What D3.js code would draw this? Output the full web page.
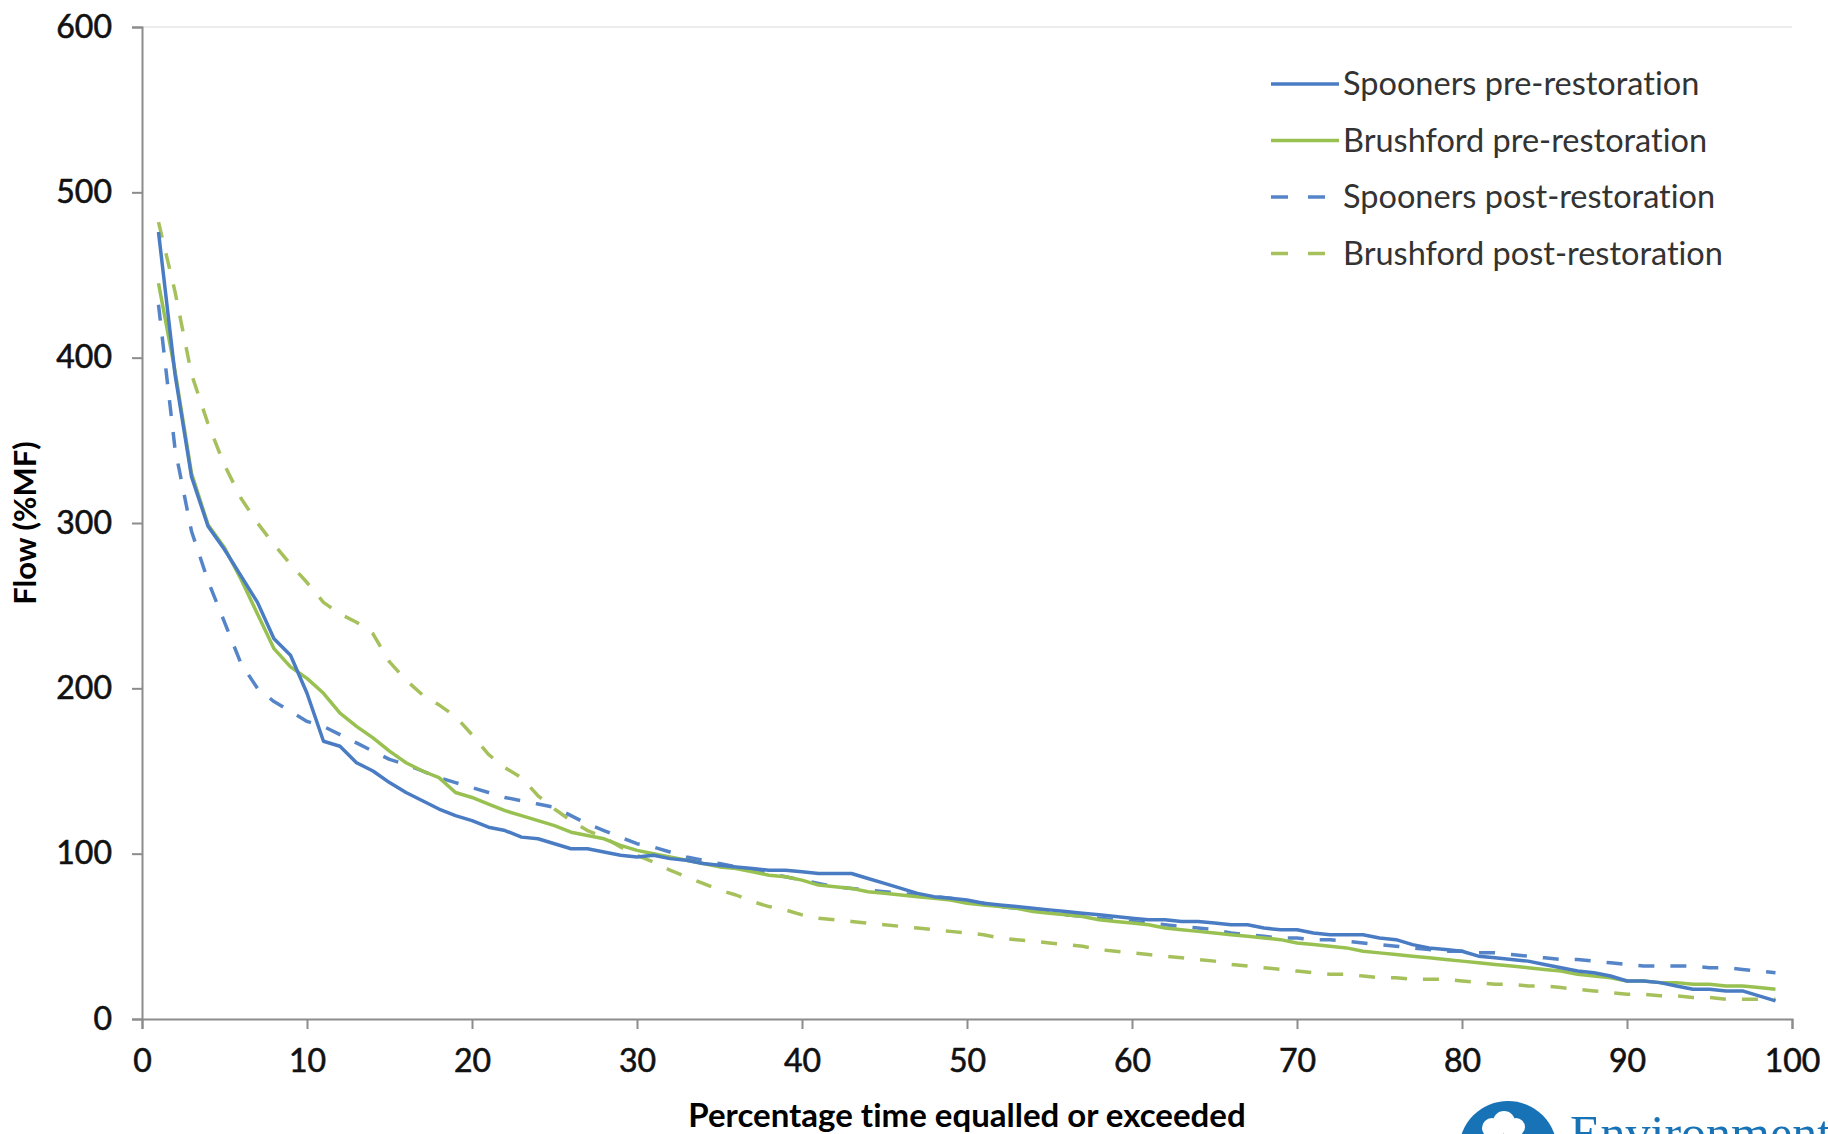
<!DOCTYPE html>
<html>
<head>
<meta charset="utf-8">
<script src="https://cdn.jsdelivr.net/npm/d3@7"></script>
<style>
  body { margin: 0; background: #fff; }
  svg { display: block; }
  text { font-variant-ligatures: none; }
</style>
</head>
<body>
<div id="chart"></div>
<script>
// percentage of time equalled or exceeded (1..99)
var percent = [
  1, 2, 3, 4, 5, 6, 7, 8, 9, 10, 11, 12, 13, 14, 15, 16, 17, 18, 19, 20,
  21, 22, 23, 24, 25, 26, 27, 28, 29, 30, 31, 32, 33, 34, 35, 36, 37, 38, 39, 40,
  41, 42, 43, 44, 45, 46, 47, 48, 49, 50, 51, 52, 53, 54, 55, 56, 57, 58, 59, 60,
  61, 62, 63, 64, 65, 66, 67, 68, 69, 70, 71, 72, 73, 74, 75, 76, 77, 78, 79, 80,
  81, 82, 83, 84, 85, 86, 87, 88, 89, 90, 91, 92, 93, 94, 95, 96, 97, 98, 99
];

var spoonersPre = [
  476, 390, 328, 298, 284, 268, 252, 230, 220, 197, 168, 165, 155, 150, 143, 137, 132, 127, 123, 120,
  116, 114, 110, 109, 106, 103, 103, 101, 99, 98, 99, 97, 96, 94, 93, 92, 91, 90, 90, 89,
  88, 88, 88, 85, 82, 79, 76, 74, 73, 72, 70, 69, 68, 67, 66, 65, 64, 63, 62, 61,
  60, 60, 59, 59, 58, 57, 57, 55, 54, 54, 52, 51, 51, 51, 49, 48, 45, 43, 42, 41,
  38, 37, 36, 35, 33, 31, 29, 28, 26, 23, 23, 22, 20, 18, 18, 17, 17, 14, 11
];

var brushfordPre = [
  445, 392, 330, 299, 285, 266, 245, 224, 213, 206, 197, 185, 177, 170, 162, 155, 150, 146, 137, 134,
  130, 126, 123, 120, 117, 113, 111, 109, 105, 102, 100, 98, 96, 94, 92, 91, 89, 87, 86, 84,
  81, 80, 79, 77, 76, 75, 74, 73, 72, 70, 69, 68, 67, 65, 64, 63, 62, 60, 59, 58,
  57, 55, 54, 53, 52, 51, 50, 49, 48, 46, 45, 44, 43, 41, 40, 39, 38, 37, 36, 35,
  34, 33, 32, 31, 30, 29, 27, 26, 25, 23, 23, 22, 22, 21, 21, 20, 20, 19, 18
];

var spoonersPost = [
  432, 345, 295, 265, 240, 215, 200, 192, 186, 180, 177, 172, 167, 162, 157, 154, 150, 146, 143, 140,
  137, 134, 132, 130, 128, 123, 118, 114, 110, 106, 104, 101, 98, 96, 94, 92, 90, 88, 86, 84,
  82, 80, 79, 78, 77, 76, 75, 74, 73, 71, 70, 68, 67, 66, 65, 63, 62, 61, 60, 59,
  58, 57, 56, 55, 54, 52, 51, 50, 49, 49, 48, 48, 47, 46, 45, 44, 43, 42, 41, 41,
  40, 40, 39, 38, 37, 36, 36, 35, 34, 33, 32, 32, 32, 32, 31, 31, 30, 29, 28
];

var brushfordPost = [
  482, 440, 390, 360, 335, 315, 300, 287, 275, 264, 252, 245, 240, 233, 216, 205, 196, 190, 183, 172,
  160, 152, 146, 135, 127, 120, 114, 110, 104, 99, 95, 90, 86, 82, 78, 75, 71, 68, 66, 63,
  61, 60, 59, 58, 57, 56, 55, 54, 53, 52, 51, 49, 48, 47, 46, 45, 44, 42, 41, 40,
  39, 38, 37, 36, 35, 33, 32, 31, 30, 29, 28, 27, 27, 26, 25, 25, 24, 24, 24, 23,
  22, 21, 21, 20, 20, 19, 18, 17, 16, 15, 15, 14, 14, 13, 13, 12, 12, 12, 12
];

var seriesNames = [
  "Spooners pre-restoration",
  "Brushford pre-restoration",
  "Spooners post-restoration",
  "Brushford post-restoration"
];
var seriesValues = [spoonersPre, brushfordPre, spoonersPost, brushfordPost];
var seriesColors = ["#4a7cc4", "#98c151", "#5585c8", "#a6c05c"];
var seriesDashed = [false, false, true, true];

var xTicks = [0, 10, 20, 30, 40, 50, 60, 70, 80, 90, 100];
var yTicks = [0, 100, 200, 300, 400, 500, 600];

var W = 1828, H = 1134;
var margin = {top: 27, right: 36, bottom: 115, left: 142};
var width = W - margin.left - margin.right;
var height = H - margin.top - margin.bottom;

var svg = d3.select("#chart")
  .append("svg")
    .attr("width", W)
    .attr("height", H)
    .style("background", "#fff");

var g = svg.append("g")
  .attr("transform", "translate(" + margin.left + "," + margin.top + ")");

var x = d3.scaleLinear().domain([0, 100]).range([0, width]);
var y = d3.scaleLinear().domain([0, 600]).range([height, 0]);

// faint top border
g.append("line")
  .attr("x1", 0).attr("x2", width)
  .attr("y1", y(600)).attr("y2", y(600))
  .attr("stroke", "#e6e6e6")
  .attr("stroke-width", 1.5);

// axes
var fontTick = "Lato, 'Open Sans', sans-serif";

var yAxis = g.append("g")
  .call(d3.axisLeft(y).tickValues(yTicks).tickSize(10).tickPadding(20));
var xAxis = g.append("g")
  .attr("transform", "translate(0," + height + ")")
  .call(d3.axisBottom(x).tickValues(xTicks).tickSize(10).tickPadding(20));

[xAxis, yAxis].forEach(function (a) {
  a.selectAll(".domain").attr("stroke", "#8c8c8c").attr("stroke-width", 2);
  a.selectAll(".tick line").attr("stroke", "#8c8c8c").attr("stroke-width", 2);
  a.selectAll("text")
    .attr("fill", "#111")
    .attr("stroke", "#111")
    .attr("stroke-width", 0.6)
    .style("font-family", fontTick)
    .style("font-size", "32px");
});

// lines
var line = d3.line()
  .x(function (d) { return x(d[0]); })
  .y(function (d) { return y(d[1]); });

// draw post-restoration first so the solid lines sit on top
[3, 2, 1, 0].forEach(function (i) {
  var pts = percent.map(function (p, k) { return [p, seriesValues[i][k]]; });
  g.append("path")
    .datum(pts)
    .attr("fill", "none")
    .attr("stroke", seriesColors[i])
    .attr("stroke-width", 3.5)
    .attr("stroke-linejoin", "round")
    .attr("stroke-dasharray", seriesDashed[i] ? "16,16" : null)
    .attr("d", line);
});

// axis titles
svg.append("text")
  .attr("x", margin.left + x(50))
  .attr("y", 1127)
  .attr("text-anchor", "middle")
  .style("font-family", fontTick)
  .style("font-weight", "bold")
  .style("font-size", "33px")
  .attr("fill", "#000")
  .text("Percentage time equalled or exceeded");

svg.append("text")
  .attr("transform", "translate(36," + (margin.top + y(300)) + ") rotate(-90)")
  .attr("text-anchor", "middle")
  .style("font-family", fontTick)
  .style("font-weight", "bold")
  .style("font-size", "31px")
  .attr("fill", "#000")
  .text("Flow (%MF)");

// legend
var legend = svg.append("g").attr("transform", "translate(1271,84)");
seriesNames.forEach(function (name, i) {
  var row = legend.append("g").attr("transform", "translate(0," + (i * 56.5) + ")");
  row.append("line")
    .attr("x1", 0).attr("x2", seriesDashed[i] ? 56 : 68)
    .attr("y1", 0).attr("y2", 0)
    .attr("stroke", seriesColors[i])
    .attr("stroke-width", 3.5)
    .attr("stroke-dasharray", seriesDashed[i] ? "17,20" : null);
  row.append("text")
    .attr("x", 72)
    .attr("y", 0)
    .attr("dy", "0.35em")
    .style("font-family", fontTick)
    .style("font-size", "32.5px")
    .attr("fill", "#333")
    .text(name);
});

// Environment Agency logo, cut off by the bottom edge as in the source image
var logo = svg.append("g");
logo.append("circle")
  .attr("cx", 1508).attr("cy", 1150).attr("r", 49)
  .attr("fill", "#1872b6");
[[1492, 1128, 10], [1504, 1122, 11], [1516, 1127, 9], [1497, 1138, 8], [1512, 1137, 9]].forEach(function (c) {
  logo.append("circle")
    .attr("cx", c[0]).attr("cy", c[1]).attr("r", c[2])
    .attr("fill", "#fff");
});
logo.append("text")
  .attr("x", 1570)
  .attr("y", 1150)
  .style("font-family", "'Liberation Serif', 'DejaVu Serif', serif")
  .style("font-size", "50px")
  .attr("fill", "#1872b6")
  .text("Environment");
</script>
</body>
</html>
